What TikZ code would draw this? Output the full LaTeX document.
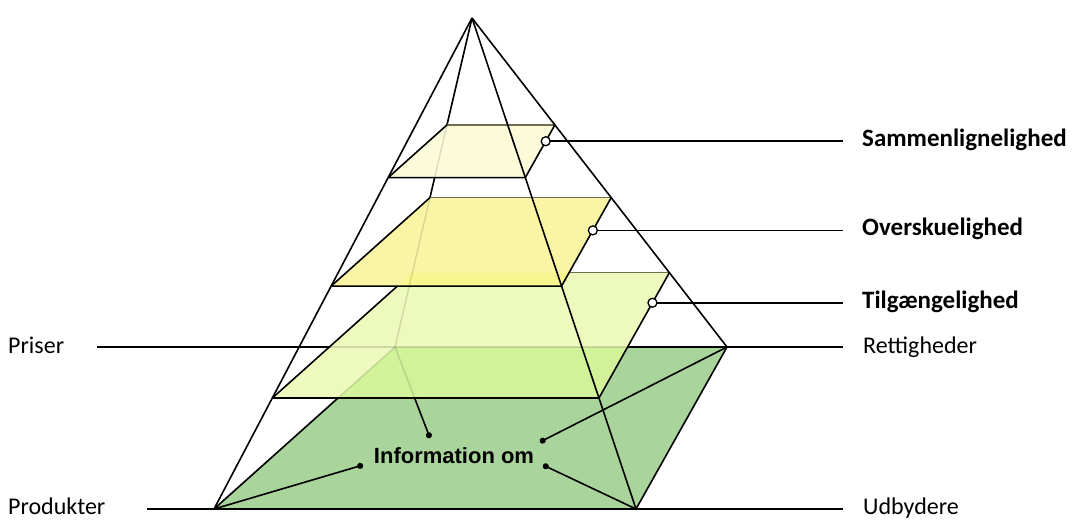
\documentclass[tikz,border=0pt]{standalone}
\usepackage{fontspec}
\setmainfont{Carlito}
\newfontfamily\infofont{Liberation Sans}
\usetikzlibrary{calc,arrows.meta}
\definecolor{layerA}{HTML}{FBFBDA}
\definecolor{layerB}{HTML}{F9F5A4}
\definecolor{layerC}{HTML}{EEF9BE}
\definecolor{layerCbase}{HTML}{D2F29A}
\definecolor{layerBC}{HTML}{F7F68E}
\definecolor{basegreen}{HTML}{A9D49B}
\definecolor{backc}{HTML}{6E6E50}
\begin{document}
\begin{tikzpicture}[x=1pt,y=-1pt,
  edge/.style={line width=1.6pt, draw=black, line join=round},
  backedge/.style={line width=1.6pt, draw=backc},
  faint/.style={line width=1.4pt, draw=black, draw opacity=0.13},
  lab/.style={anchor=base west, inner sep=0pt, font=\fontsize{24}{28}\selectfont},
  blab/.style={anchor=base west, inner sep=0pt, font=\fontsize{25}{28}\selectfont\bfseries},
  marker/.style={circle, draw=black, fill=white, line width=1.3pt, minimum size=9pt, inner sep=0pt},
  infoarrow/.style={line width=1.6pt, -{Circle[length=6pt]}},
]
\useasboundingbox (0,0) rectangle (1073,520);
% pyramid corners
\coordinate (A) at (472,18);
\coordinate (P) at (214,509);
\coordinate (U) at (636,509);
\coordinate (R) at (727,347);
\coordinate (B) at (395,347);
\foreach \n/\t in {1/0.325,2/0.546,3/0.774}{
  \coordinate (FL\n) at ($(A)!\t!(P)$);
  \coordinate (FR\n) at ($(A)!\t!(U)$);
  \coordinate (BR\n) at ($(A)!\t!(R)$);
  \coordinate (BL\n) at ($(A)!\t!(B)$);
}
% line ends
\coordinate (Lp) at (97,347);
\coordinate (Rend) at (843,347);
\coordinate (Lb) at (147,509);
\coordinate (Rb) at (843,509);
% info dots
\coordinate (d1) at (363,465);
\coordinate (d2) at (430,438);
\coordinate (d3) at (540,442);
\coordinate (d4) at (543,465);

% labels
\node[lab] (priser) at (8,353) {Priser};
\node[lab] (produkter) at (8,514) {Produkter};
\node[lab] (udbydere) at (863,514) {Udbydere};
\node[lab] (rett) at (863,353) {Rettigheder};
\node[blab] (tilg) at (862,308) {Tilgængelighed};
\node[blab] (overs) at (862,235) {Overskuelighed};
\node[blab] (samm) at (862,146) {Sammenlignelighed};

% base
\fill[basegreen] (P) -- (U) -- (R) -- (B) -- cycle;
% lines that layers partly hide
\draw[edge] (A) -- (B);
\draw[edge] (Lp) -- (Rend);
\draw[edge] (P) -- (B);
\draw[infoarrow] (B) -- (d2);

% layer 3
\fill[layerC] (FL3) -- (FR3) -- (BR3) -- (BL3) -- cycle;
\begin{scope}
  \clip (P) -- (U) -- (R) -- (B) -- cycle;
  \fill[layerCbase] (FL3) -- (FR3) -- (BR3) -- (BL3) -- cycle;
\end{scope}
\draw[backedge] (BL3) -- (BR3);
\draw[edge] (BR3) -- (FR3) -- (FL3) -- (BL3);

% layer 2
\fill[layerB] (FL2) -- (FR2) -- (BR2) -- (BL2) -- cycle;
\begin{scope}
  \clip (FL3) -- (FR3) -- (BR3) -- (BL3) -- cycle;
  \fill[layerBC] (FL2) -- (FR2) -- (BR2) -- (BL2) -- cycle;
\end{scope}
\draw[backedge] (BL2) -- (BR2);
\draw[edge] (BR2) -- (FR2) -- (FL2) -- (BL2);

% layer 1
\fill[layerA] (FL1) -- (FR1) -- (BR1) -- (BL1) -- cycle;
\draw[backedge] (BL1) -- (BR1);
\draw[edge] (BR1) -- (FR1) -- (FL1) -- (BL1);

% faint see-through lines
\draw[faint] (A) -- (B);
\draw[faint] (Lp) -- (Rend);
\draw[faint] (P) -- (B);
\draw[faint] (B) -- (d2);

% visible pyramid edges and base
\draw[edge] (A) -- (P);
\draw[edge] (A) -- (R);
\draw[edge] (A) -- (U);
\draw[edge] (U) -- (R);
\draw[edge] (Lb) -- (Rb);

% info text and arrows
\node[anchor=base, inner sep=0pt, font=\infofont\bfseries\fontsize{22}{26}\selectfont] (info) at (454,463) {Information om};
\draw[infoarrow] (P) -- (d1);
\draw[infoarrow] (R) -- (d3);
\draw[infoarrow] (U) -- (d4);

% layer labels with markers
\coordinate (M1) at ($(FR1)!0.69!(BR1)$);
\coordinate (M2) at ($(FR2)!0.63!(BR2)$);
\coordinate (M3) at ($(FR3)!0.76!(BR3)$);
\draw[line width=1.6pt] (M1) -- (M1 -| Rend);
\draw[line width=1.6pt] (M2) -- (M2 -| Rend);
\draw[line width=1.6pt] (M3) -- (M3 -| Rend);
\node[marker] (m1) at (M1) {};
\node[marker] (m2) at (M2) {};
\node[marker] (m3) at (M3) {};
\end{tikzpicture}
\end{document}
